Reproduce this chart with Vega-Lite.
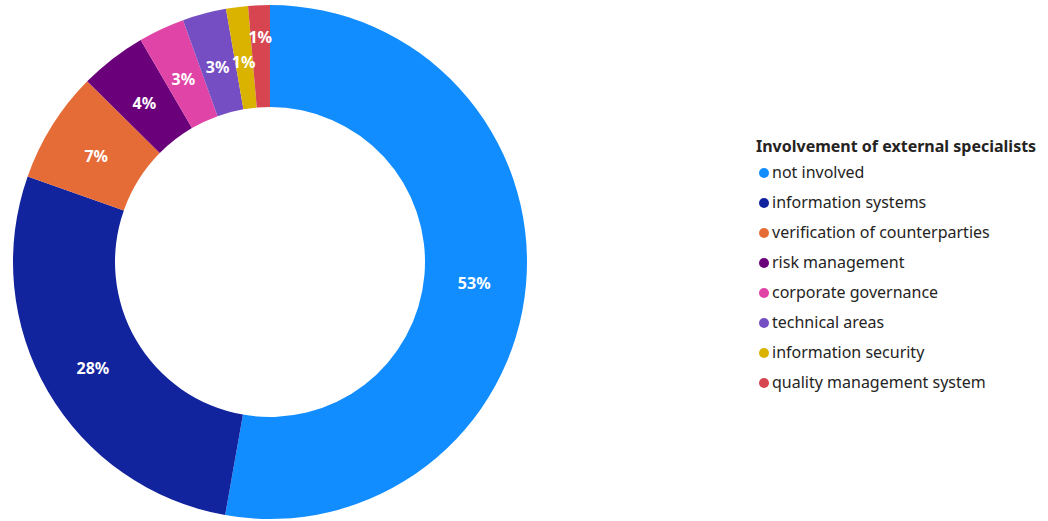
{
  "$schema": "https://vega.github.io/schema/vega-lite/v6.json",
  "width": 540,
  "height": 520,
  "padding": {"left": 0, "top": 2, "right": 0, "bottom": 0},
  "background": "white",
  "config": {"view": {"stroke": null}, "font": "Noto Sans"},
  "data": {"values": [
    {"category": "not involved", "value": 0.5277, "idx": 1},
    {"category": "information systems", "value": 0.276, "idx": 2},
    {"category": "verification of counterparties", "value": 0.070, "idx": 3},
    {"category": "risk management", "value": 0.042, "idx": 4},
    {"category": "corporate governance", "value": 0.029, "idx": 5},
    {"category": "technical areas", "value": 0.0275, "idx": 6},
    {"category": "information security", "value": 0.0138, "idx": 7},
    {"category": "quality management system", "value": 0.0136, "idx": 8}
  ]},
  "encoding": {
    "theta": {"field": "value", "type": "quantitative", "stack": true},
    "order": {"field": "idx", "type": "quantitative"},
    "color": {
      "field": "category", "type": "nominal",
      "scale": {
        "domain": ["not involved", "information systems", "verification of counterparties", "risk management", "corporate governance", "technical areas", "information security", "quality management system"],
        "range": ["#118DFF", "#12239E", "#E66C37", "#6B007B", "#E044A7", "#744EC2", "#D9B300", "#D64550"]
      },
      "legend": {
        "title": "Involvement of external specialists",
        "orient": "none",
        "legendX": 756,
        "legendY": 137,
        "titleFont": "Noto Sans",
        "titleFontSize": 16,
        "titleFontWeight": "bold",
        "titleColor": "#252423",
        "titlePadding": 10,
        "titleLimit": 500,
        "labelFont": "Noto Sans",
        "labelFontSize": 16,
        "labelColor": "#252423",
        "labelOffset": 0,
        "symbolType": "circle",
        "symbolSize": 100,
        "rowPadding": 14,
        "labelLimit": 400
      }
    }
  },
  "layer": [
    {"mark": {"type": "arc", "outerRadius": 257, "innerRadius": 155}},
    {
      "mark": {"type": "text", "radius": 205, "dy": 4, "color": "white", "fontWeight": "bold", "fontSize": 16, "font": "Noto Sans"},
      "encoding": {
        "text": {"condition": {"test": "datum.idx < 8", "field": "value", "type": "quantitative", "format": ".0%"}, "value": ""},
        "color": {"value": "white"}
      }
    },
    {
      "mark": {"type": "text", "radius": 228, "dy": 4, "color": "white", "fontWeight": "bold", "fontSize": 16, "font": "Noto Sans"},
      "encoding": {
        "text": {"condition": {"test": "datum.idx == 8", "field": "value", "type": "quantitative", "format": ".0%"}, "value": ""},
        "color": {"value": "white"}
      }
    }
  ]
}
